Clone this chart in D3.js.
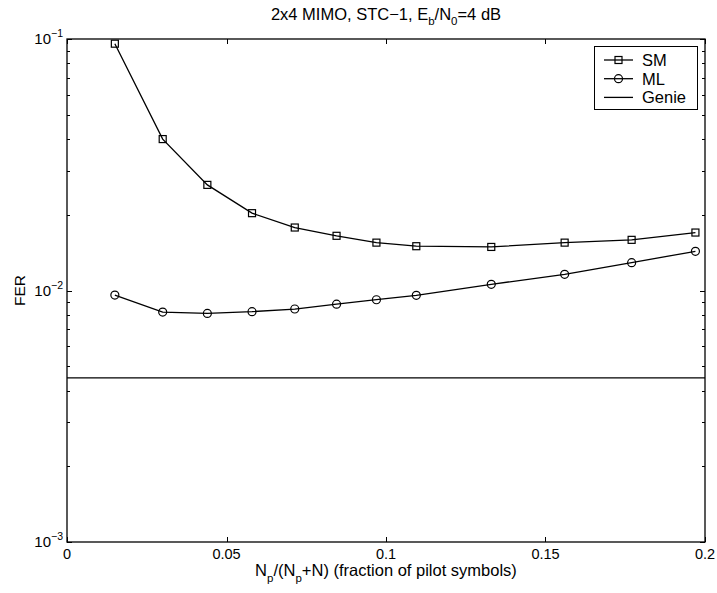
<!DOCTYPE html>
<html>
<head>
<meta charset="utf-8">
<script src="https://cdn.jsdelivr.net/npm/d3@7"></script>
<style>
  body { margin: 0; background: #fff; }
  svg { display: block; font-family: "Liberation Sans", Arial, Helvetica, sans-serif; }
</style>
</head>
<body>
<svg id="chart" width="717" height="593"></svg>
<script>
// pilot fraction Np/(Np+N)
var fraction = [0.015, 0.030, 0.044, 0.058, 0.0714, 0.0845, 0.097, 0.1095, 0.133, 0.156, 0.177, 0.197];
var smFER = [0.0958, 0.0400, 0.0263, 0.0203, 0.0178, 0.0165, 0.0155, 0.0150, 0.0149, 0.0155, 0.0159, 0.0170];
var mlFER = [0.00959, 0.00821, 0.00811, 0.00824, 0.00844, 0.00882, 0.00919, 0.00957, 0.01058, 0.0116, 0.0129, 0.01432];
var genieFER = 0.00449;
var xTicks = [0, 0.05, 0.1, 0.15, 0.2];
var xTickLabels = ["0", "0.05", "0.1", "0.15", "0.2"];
var yDecades = [1e-3, 1e-2, 1e-1];
var yExponents = ["\u22123", "\u22122", "\u22121"];
var legendNames = ["SM", "ML", "Genie"];

var svg = d3.select("#chart");
// plot box edges (don't use "top", it clashes with window.top)
var pLeft = 67, pRight = 705, pTop = 39, pBottom = 542;
var fsTick = 14.5, fsLabel = 16.5, fsSub = 11.5;

var x = d3.scaleLinear().domain([0, 0.2]).range([pLeft, pRight]);
var y = d3.scaleLog().domain([1e-3, 1e-1]).range([pBottom, pTop]);

var plot = svg.append("g");

// ticks (inward, on all four sides)
var ticks = svg.append("g").attr("stroke", "#000").attr("stroke-width", 1);
xTicks.forEach(function(t) {
	var px = Math.round(x(t)) + 0.5;
	ticks.append("line").attr("x1", px).attr("x2", px).attr("y1", pBottom).attr("y2", pBottom - 5);
	ticks.append("line").attr("x1", px).attr("x2", px).attr("y1", pTop).attr("y2", pTop + 5);
});
// log ticks, major and minor
var yMinor = [];
[1e-3, 1e-2].forEach(function(d) {
	for (var k = 2; k <= 9; k++) yMinor.push(d * k);
});
yMinor.forEach(function(t) {
	var py = Math.round(y(t)) + 0.5;
	ticks.append("line").attr("x1", pLeft).attr("x2", pLeft + 3).attr("y1", py).attr("y2", py);
	ticks.append("line").attr("x1", pRight).attr("x2", pRight - 3).attr("y1", py).attr("y2", py);
});
yDecades.forEach(function(t) {
	var py = Math.round(y(t)) + 0.5;
	ticks.append("line").attr("x1", pLeft).attr("x2", pLeft + 5).attr("y1", py).attr("y2", py);
	ticks.append("line").attr("x1", pRight).attr("x2", pRight - 5).attr("y1", py).attr("y2", py);
});

// tick labels
svg.append("g").selectAll("text.xt")
	.data(xTicks)
	.enter().append("text")
	.attr("x", function(d) { return x(d); })
	.attr("y", 559)
	.attr("text-anchor", "middle")
	.attr("font-size", fsTick)
	.text(function(d, i) { return xTickLabels[i]; });

var yl = svg.append("g").selectAll("text.yt")
	.data(yDecades)
	.enter().append("text")
	.attr("x", pLeft - 4)
	.attr("y", function(d) { return y(d) + 5; })
	.attr("text-anchor", "end")
	.attr("font-size", fsTick + 0.5);
yl.append("tspan").text("10");
yl.append("tspan").attr("dy", -7).attr("font-size", 10.5).text(function(d, i) { return yExponents[i]; });

// Genie line
plot.append("line")
	.attr("x1", pLeft).attr("x2", pRight)
	.attr("y1", y(genieFER)).attr("y2", y(genieFER))
	.attr("stroke", "#000").attr("stroke-width", 1.3);

var line = d3.line()
	.x(function(d) { return x(d[0]); })
	.y(function(d) { return y(d[1]); });

var smData = d3.zip(fraction, smFER);
var mlData = d3.zip(fraction, mlFER);

plot.append("path").datum(smData).attr("d", line)
	.attr("fill", "none").attr("stroke", "#000").attr("stroke-width", 1.3);
plot.append("path").datum(mlData).attr("d", line)
	.attr("fill", "none").attr("stroke", "#000").attr("stroke-width", 1.3);

plot.selectAll("rect.sm")
	.data(smData)
	.enter().append("rect")
	.attr("x", function(d) { return x(d[0]) - 3.5; })
	.attr("y", function(d) { return y(d[1]) - 3.5; })
	.attr("width", 7).attr("height", 7)
	.attr("fill", "none").attr("stroke", "#000").attr("stroke-width", 1.2);

plot.selectAll("circle.ml")
	.data(mlData)
	.enter().append("circle")
	.attr("cx", function(d) { return x(d[0]); })
	.attr("cy", function(d) { return y(d[1]); })
	.attr("r", 4)
	.attr("fill", "none").attr("stroke", "#000").attr("stroke-width", 1.2);

// axes box
svg.append("rect")
	.attr("x", pLeft).attr("y", pTop)
	.attr("width", pRight - pLeft).attr("height", pBottom - pTop)
	.attr("fill", "none").attr("stroke", "#000").attr("stroke-width", 1.3);

// title
var title = svg.append("text")
	.attr("x", (pLeft + pRight) / 2).attr("y", 20)
	.attr("text-anchor", "middle").attr("font-size", fsLabel);
title.append("tspan").text("2x4 MIMO, STC\u22121, E");
title.append("tspan").attr("dy", 5).attr("font-size", fsSub).text("b");
title.append("tspan").attr("dy", -5).text("/N");
title.append("tspan").attr("dy", 5).attr("font-size", fsSub).text("0");
title.append("tspan").attr("dy", -5).text("=4 dB");

// x label
var xlab = svg.append("text")
	.attr("x", (pLeft + pRight) / 2).attr("y", 576)
	.attr("text-anchor", "middle").attr("font-size", fsLabel);
xlab.append("tspan").text("N");
xlab.append("tspan").attr("dy", 6).attr("font-size", fsSub).text("p");
xlab.append("tspan").attr("dy", -6).text("/(N");
xlab.append("tspan").attr("dy", 6).attr("font-size", fsSub).text("p");
xlab.append("tspan").attr("dy", -6).text("+N) (fraction of pilot symbols)");

// y label
svg.append("text")
	.attr("transform", "translate(25," + ((pTop + pBottom) / 2) + ") rotate(-90)")
	.attr("text-anchor", "middle").attr("font-size", 15.5)
	.text("FER");

// legend
var lg = svg.append("g");
lg.append("rect")
	.attr("x", 594.5).attr("y", 46.5).attr("width", 103).attr("height", 63)
	.attr("fill", "#fff").attr("stroke", "#000").attr("stroke-width", 1);
legendNames.forEach(function(name, i) {
	var ly = 60 + i * 18.7;
	lg.append("line").attr("x1", 604).attr("x2", 633).attr("y1", ly).attr("y2", ly)
		.attr("stroke", "#000").attr("stroke-width", 1.3);
	if (i === 0) {
		lg.append("rect").attr("x", 615).attr("y", ly - 3.5).attr("width", 7).attr("height", 7)
			.attr("fill", "none").attr("stroke", "#000").attr("stroke-width", 1.2);
	} else if (i === 1) {
		lg.append("circle").attr("cx", 618.5).attr("cy", ly).attr("r", 4)
			.attr("fill", "none").attr("stroke", "#000").attr("stroke-width", 1.2);
	}
	lg.append("text").attr("x", 642).attr("y", ly + 6).attr("font-size", fsLabel).text(name);
});
</script>
</body>
</html>
